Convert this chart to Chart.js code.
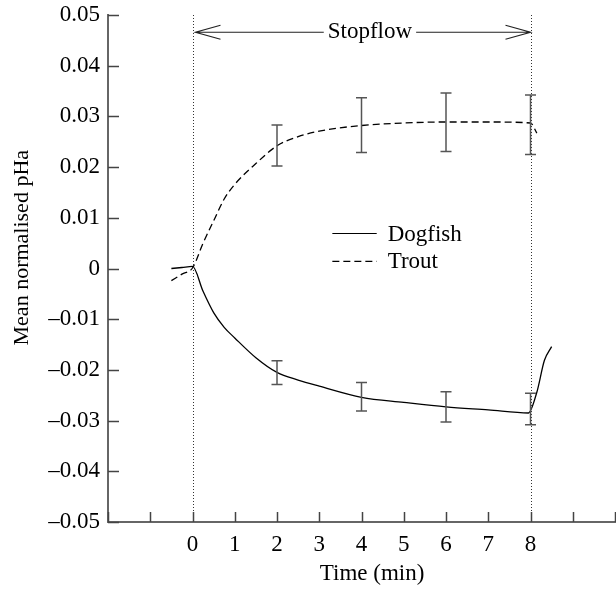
<!DOCTYPE html>
<html>
<head>
<meta charset="utf-8">
<script src="https://cdn.jsdelivr.net/npm/chart.js@4.4.0/dist/chart.umd.min.js"></script>
<style>
  html, body { margin: 0; padding: 0; background: #fff; }
</style>
</head>
<body>
<canvas id="phChart" width="616" height="592"></canvas>
<script>
// curves
const dogfishTime = [-0.5, -0.25, 0, 0.25, 0.5, 0.75, 1, 1.5, 2, 2.5, 3, 4, 5, 6, 7, 7.95, 8.15, 8.33, 8.5];
const dogfishPHa  = [0.0000, 0.0002, 0.0004, -0.0045, -0.0087, -0.0116, -0.0137, -0.0176, -0.0205, -0.0220, -0.0232, -0.0254, -0.0264, -0.0273, -0.0279, -0.0285, -0.0244, -0.0181, -0.0154];

const troutTime = [-0.5, -0.25, 0, 0.25, 0.5, 0.75, 1, 1.5, 2, 2.5, 3, 4, 5, 6, 7, 8, 8.15];
const troutPHa  = [-0.0024, -0.0011, 0.0001, 0.0050, 0.0094, 0.0137, 0.0166, 0.0207, 0.0242, 0.0260, 0.0271, 0.0282, 0.0287, 0.0289, 0.0289, 0.0287, 0.0267];

// error bars
const errTime     = [2, 4, 6, 8];
const troutLow    = [0.0202, 0.0229, 0.0231, 0.0225];
const troutHigh   = [0.0283, 0.0337, 0.0346, 0.0342];
const dogfishLow  = [-0.0229, -0.0281, -0.0303, -0.0308];
const dogfishHigh = [-0.0182, -0.0225, -0.0243, -0.0246];

const xTickLabels = [0, 1, 2, 3, 4, 5, 6, 7, 8];
const stopflowStart = 0, stopflowEnd = 8;

const FONT = '"Liberation Serif", "Times New Roman", serif';
const toPoints = (xs, ys) => xs.map((x, i) => ({ x: x, y: ys[i] }));

function fmtY(v) {
  if (Math.abs(v) < 1e-9) return '0';
  const s = Math.abs(v).toFixed(2);
  return v < 0 ? '\u2013' + s : s;
}

const decorations = {
  id: 'decorations',
  afterDatasetsDraw(chart) {
    const { ctx, chartArea: area, scales: { x, y } } = chart;
    ctx.save();

    // dotted stopflow markers
    ctx.strokeStyle = '#333';
    ctx.lineWidth = 1;
    ctx.setLineDash([1, 2]);
    [stopflowStart, stopflowEnd].forEach(t => {
      const px = Math.round(x.getPixelForValue(t)) + 0.5;
      ctx.beginPath();
      ctx.moveTo(px, area.top);
      ctx.lineTo(px, area.bottom);
      ctx.stroke();
    });
    ctx.setLineDash([]);

    // error bars
    ctx.strokeStyle = '#555';
    ctx.lineWidth = 1.5;
    const bars = (lo, hi) => errTime.forEach((t, i) => {
      const px = x.getPixelForValue(t);
      const y1 = y.getPixelForValue(lo[i]);
      const y2 = y.getPixelForValue(hi[i]);
      ctx.beginPath();
      ctx.moveTo(px, y1); ctx.lineTo(px, y2);
      ctx.moveTo(px - 5.5, y1); ctx.lineTo(px + 5.5, y1);
      ctx.moveTo(px - 5.5, y2); ctx.lineTo(px + 5.5, y2);
      ctx.stroke();
    });
    bars(troutLow, troutHigh);
    bars(dogfishLow, dogfishHigh);

    // stopflow arrow
    const ax0 = x.getPixelForValue(stopflowStart) + 3;
    const ax1 = x.getPixelForValue(stopflowEnd);
    const ay = y.getPixelForValue(0.0466);
    const tx = x.getPixelForValue(4.2);
    ctx.font = '23px ' + FONT;
    ctx.fillStyle = '#000';
    ctx.textAlign = 'center';
    ctx.textBaseline = 'alphabetic';
    const tw = ctx.measureText('Stopflow').width;
    ctx.fillText('Stopflow', tx, ay + 6);
    ctx.strokeStyle = '#222';
    ctx.lineWidth = 1.2;
    ctx.beginPath();
    ctx.moveTo(ax0, ay); ctx.lineTo(tx - tw / 2 - 4, ay);
    ctx.moveTo(tx + tw / 2 + 4, ay); ctx.lineTo(ax1, ay);
    ctx.moveTo(ax0 + 25, ay - 7); ctx.lineTo(ax0, ay); ctx.lineTo(ax0 + 25, ay + 7);
    ctx.moveTo(ax1 - 25, ay - 7); ctx.lineTo(ax1, ay); ctx.lineTo(ax1 - 25, ay + 7);
    ctx.stroke();

    // legend
    const lx0 = x.getPixelForValue(3.31), lx1 = x.getPixelForValue(4.36);
    const ltx = x.getPixelForValue(4.62);
    const rows = [
      { label: 'Dogfish', y: 0.0069, dash: [] },
      { label: 'Trout', y: 0.0014, dash: [7, 4] }
    ];
    ctx.textAlign = 'left';
    ctx.textBaseline = 'middle';
    rows.forEach(r => {
      const py = y.getPixelForValue(r.y);
      ctx.setLineDash(r.dash);
      ctx.strokeStyle = '#000';
      ctx.lineWidth = 1.2;
      ctx.beginPath();
      ctx.moveTo(lx0, py); ctx.lineTo(lx1, py);
      ctx.stroke();
      ctx.fillText(r.label, ltx, py + 1);
    });
    ctx.setLineDash([]);
    ctx.restore();
  },
  afterDraw(chart) {
    const { ctx, chartArea: area, scales: { x, y } } = chart;
    ctx.save();
    // inward tick marks
    ctx.strokeStyle = '#444';
    ctx.lineWidth = 1.5;
    ctx.beginPath();
    y.ticks.forEach(t => {
      const py = Math.round(y.getPixelForValue(t.value)) + 0.5;
      ctx.moveTo(area.left, py); ctx.lineTo(area.left + 11, py);
    });
    x.ticks.forEach(t => {
      const px = Math.round(x.getPixelForValue(t.value)) + 0.5;
      ctx.moveTo(px, area.bottom); ctx.lineTo(px, area.bottom - 10);
    });
    ctx.stroke();

    // axis titles
    ctx.fillStyle = '#000';
    ctx.font = '23px ' + FONT;
    ctx.textAlign = 'center';
    ctx.textBaseline = 'alphabetic';
    ctx.fillText('Time (min)', x.getPixelForValue(4.25), area.bottom + 58);
    ctx.font = '22px ' + FONT;
    ctx.translate(28, y.getPixelForValue(0.0041));
    ctx.rotate(-Math.PI / 2);
    ctx.fillText('Mean normalised pHa', 0, 0);
    ctx.restore();
  }
};

new Chart(document.getElementById('phChart').getContext('2d'), {
  type: 'scatter',
  data: {
    datasets: [
      {
        label: 'Dogfish',
        data: toPoints(dogfishTime, dogfishPHa),
        showLine: true,
        borderColor: '#000',
        borderWidth: 1.3,
        pointRadius: 0,
        cubicInterpolationMode: 'monotone'
      },
      {
        label: 'Trout',
        data: toPoints(troutTime, troutPHa),
        showLine: true,
        borderColor: '#000',
        borderWidth: 1.3,
        borderDash: [7, 4],
        pointRadius: 0,
        cubicInterpolationMode: 'monotone'
      }
    ]
  },
  options: {
    responsive: false,
    animation: false,
    layout: { padding: { top: 15, right: 1, left: 0, bottom: 0 } },
    plugins: {
      legend: { display: false },
      tooltip: { enabled: false }
    },
    scales: {
      x: {
        type: 'linear',
        min: -2,
        max: 10,
        afterFit: s => { s.height = 70; s.paddingLeft = 0; s.paddingRight = 0; },
        border: { color: '#666', width: 2 },
        grid: { display: false, drawTicks: false },
        ticks: {
          stepSize: 1,
          padding: 9,
          color: '#000',
          font: { family: FONT, size: 23 },
          maxRotation: 0,
          autoSkip: false,
          callback: v => xTickLabels.includes(v) ? String(v) : ''
        }
      },
      y: {
        min: -0.05,
        max: 0.05,
        afterFit: s => { s.width = 108; s.paddingTop = 0; s.paddingBottom = 0; },
        border: { color: '#666', width: 2 },
        grid: { display: false, drawTicks: false },
        ticks: {
          stepSize: 0.01,
          padding: 8,
          color: '#000',
          font: { family: FONT, size: 23 },
          callback: v => fmtY(v)
        }
      }
    }
  },
  plugins: [decorations]
});
</script>
</body>
</html>
